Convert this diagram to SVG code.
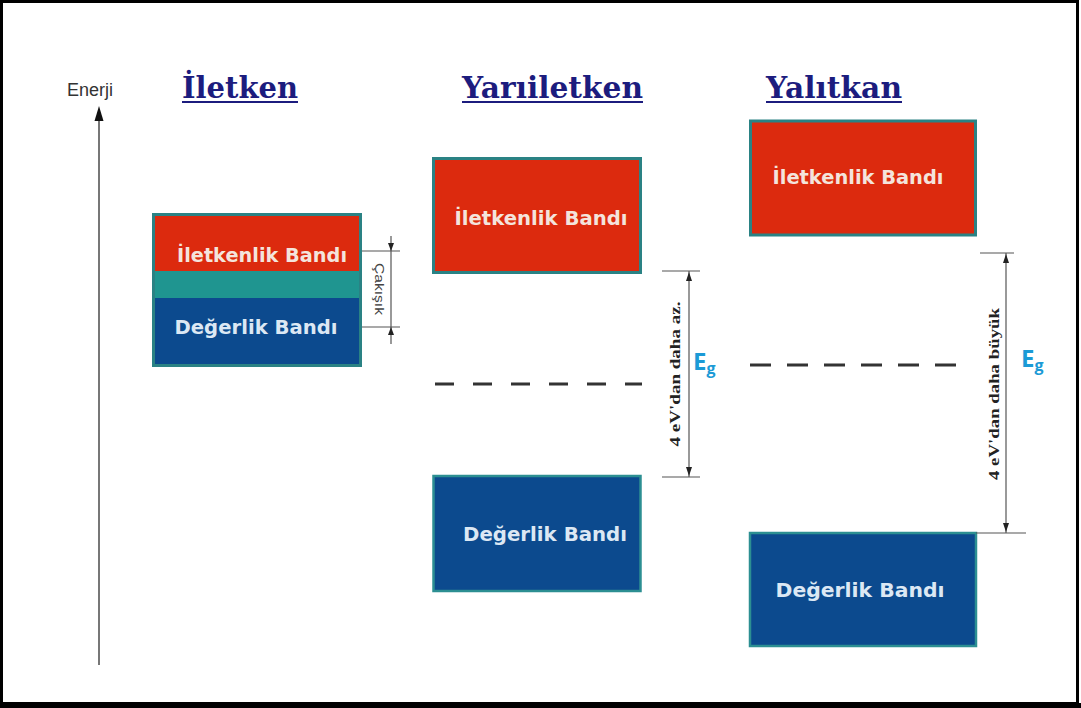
<svg xmlns="http://www.w3.org/2000/svg" width="1081" height="708" viewBox="0 0 1081 708">
<defs>
<style>
.title{font-family:"DejaVu Serif","Liberation Serif",serif;font-weight:bold;font-size:29px;fill:#1c1c7e}
.band{font-family:"DejaVu Sans","Liberation Sans",sans-serif;font-weight:bold;font-size:19px;text-anchor:middle}
.cb{fill:#dc2a0e;stroke:#2a8284;stroke-width:3}
.vb{fill:#0c4a8e;stroke:#2c8f92;stroke-width:2.5}
.tred{fill:#f4e4dc}
.tblue{fill:#dce8f4}
.dim{stroke:#555;stroke-width:1.2;fill:none}
.dash{stroke:#333;stroke-width:3;fill:none}
.dimtxt{font-family:"Liberation Serif","DejaVu Serif",serif;font-weight:bold;font-size:14px;fill:#222;text-anchor:middle}
.eg{font-family:"Open Sans","Liberation Sans",sans-serif;font-weight:bold;font-size:24px;fill:#1b9ad6}
.ah{fill:#222}
</style>
</defs>
<rect x="0" y="0" width="1081" height="708" fill="#fff"/>
<rect x="1.5" y="1.5" width="1076" height="702" fill="none" stroke="#000" stroke-width="3"/>
<line x1="0" y1="705.5" x2="1081" y2="705.5" stroke="#000" stroke-width="5"/>

<g id="axis">
<line x1="99" y1="118" x2="99" y2="665" stroke="#555" stroke-width="1.6"/>
<polygon points="99,106 94.5,121 103.5,121" fill="#111"/>
<text x="67" y="96" font-family="Liberation Sans, Arial, sans-serif" font-size="18" fill="#333">Enerji</text>
</g>

<g id="titles">
<text class="title" x="182" y="98" textLength="116" lengthAdjust="spacingAndGlyphs">İletken</text>
<line x1="182" y1="102" x2="298" y2="102" stroke="#1c1c7e" stroke-width="2"/>
<text class="title" x="462" y="98" textLength="181" lengthAdjust="spacingAndGlyphs">Yarıiletken</text>
<line x1="462" y1="102" x2="643" y2="102" stroke="#1c1c7e" stroke-width="2"/>
<text class="title" x="766" y="98" textLength="136" lengthAdjust="spacingAndGlyphs">Yalıtkan</text>
<line x1="766" y1="102" x2="902" y2="102" stroke="#1c1c7e" stroke-width="2"/>
</g>

<g id="iletken-bands">
<rect x="153.5" y="214.5" width="207" height="151" fill="#1f9590" stroke="#2a8284" stroke-width="3"/>
<rect x="155" y="216" width="204" height="55" fill="#dc2a0e"/>
<rect x="155" y="298" width="204" height="66" fill="#0c4a8e"/>
<text class="band tred" x="262" y="262" textLength="170" lengthAdjust="spacingAndGlyphs">İletkenlik Bandı</text>
<text class="band tblue" x="256" y="334" textLength="163" lengthAdjust="spacingAndGlyphs">Değerlik Bandı</text>
</g>

<g id="yari-iletkenlik">
<rect class="cb" x="433.5" y="158.5" width="207" height="114"/>
<text class="band tred" x="541" y="225" textLength="173" lengthAdjust="spacingAndGlyphs">İletkenlik Bandı</text>
</g>
<g id="yari-degerlik">
<rect class="vb" x="433.5" y="476" width="207" height="115"/>
<text class="band tblue" x="545" y="541" textLength="164" lengthAdjust="spacingAndGlyphs">Değerlik Bandı</text>
</g>

<g id="yalitkan-iletkenlik">
<rect class="cb" x="750.5" y="121" width="225" height="114"/>
<text class="band tred" x="858" y="184" textLength="171" lengthAdjust="spacingAndGlyphs">İletkenlik Bandı</text>
</g>
<g id="yalitkan-degerlik">
<rect class="vb" x="750" y="533" width="226" height="113"/>
<text class="band tblue" x="860" y="597" textLength="169" lengthAdjust="spacingAndGlyphs">Değerlik Bandı</text>
</g>

<g id="connectors">
<line class="dim" x1="362" y1="251" x2="400" y2="251"/>
<line class="dim" x1="362" y1="327" x2="400" y2="327"/>
<line class="dim" x1="391" y1="236" x2="391" y2="344"/>
<polygon class="ah" points="391,251 388,243 394,243"/>
<polygon class="ah" points="391,327 388,335 394,335"/>
<line class="dim" x1="662" y1="271" x2="700" y2="271"/>
<line class="dim" x1="662" y1="477" x2="700" y2="477"/>
<line class="dim" x1="689" y1="271" x2="689" y2="477"/>
<polygon class="ah" points="689,272 686,281 692,281"/>
<polygon class="ah" points="689,476 686,467 692,467"/>
<line class="dash" x1="435" y1="384" x2="642" y2="384" stroke-dasharray="19 19"/>
<line class="dim" x1="980" y1="253" x2="1014" y2="253"/>
<line class="dim" x1="976" y1="533" x2="1026" y2="533"/>
<line class="dim" x1="1006" y1="253" x2="1006" y2="533"/>
<polygon class="ah" points="1006,254 1003,263 1009,263"/>
<polygon class="ah" points="1006,532 1003,523 1009,523"/>
<line class="dash" x1="750" y1="365" x2="964" y2="365" stroke-dasharray="21 16"/>
</g>

<g id="labels">
<text transform="translate(375,289) rotate(90)" font-family="Liberation Sans, Arial, sans-serif" font-size="12" fill="#444" text-anchor="middle" textLength="52" lengthAdjust="spacingAndGlyphs">Çakışık</text>
<text class="dimtxt" transform="translate(680,374) rotate(-90)" textLength="145" lengthAdjust="spacingAndGlyphs">4 eV'dan daha az.</text>
<text class="dimtxt" transform="translate(999,394) rotate(-90)" textLength="172" lengthAdjust="spacingAndGlyphs">4 eV'dan daha büyük</text>
<text class="eg" x="693" y="370">E<tspan font-size="16" dy="4">g</tspan></text>
<text class="eg" x="1021" y="367">E<tspan font-size="16" dy="4">g</tspan></text>
</g>
</svg>
